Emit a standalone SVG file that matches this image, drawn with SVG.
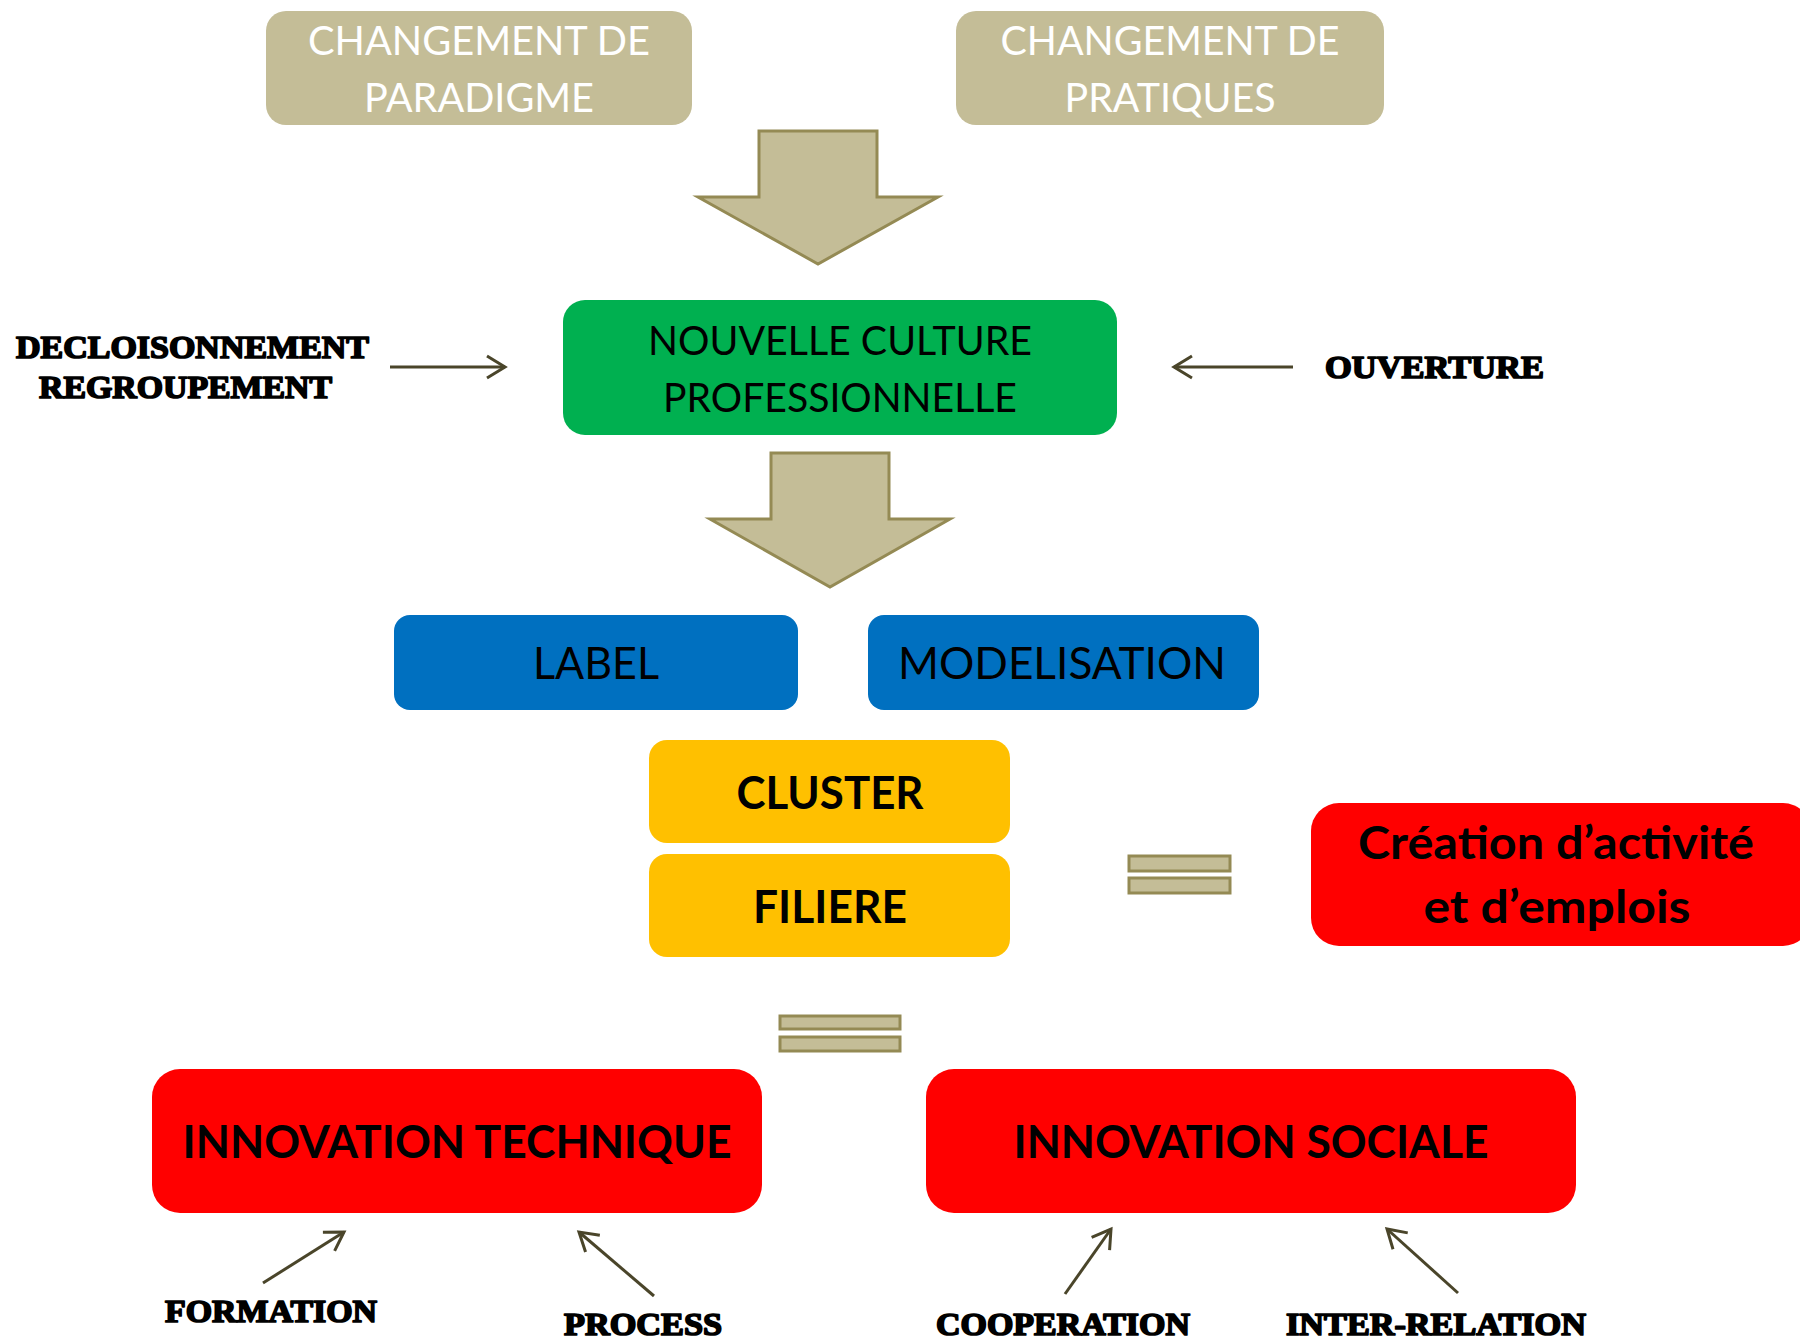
<svg xmlns="http://www.w3.org/2000/svg" width="1800" height="1339" viewBox="0 0 1800 1339">
<defs>
<style>
.tan{fill:#C4BD97}
.big{fill:#C4BD97;stroke:#948A54;stroke-width:3}
.cal{font-family:Lato,"Open Sans","Liberation Sans",sans-serif;font-size:40px;text-anchor:middle}
.calb{font-family:Lato,"Open Sans","Liberation Sans",sans-serif;font-size:46px;font-weight:bold;text-anchor:middle;fill:#000}
.ser{font-family:"Liberation Serif","DejaVu Serif",serif;font-size:31px;font-weight:bold;fill:#000;stroke:#000;stroke-width:1.7;stroke-linejoin:round}
.con{stroke:#4A452A;stroke-width:3;fill:none;marker-end:url(#chev)}
</style>
<marker id="chev" markerUnits="userSpaceOnUse" markerWidth="30" markerHeight="30" viewBox="-22 -15 26 30" refX="0" refY="0" orient="auto">
<path d="M-18,-11 L0,0 L-18,11" fill="none" stroke="#4A452A" stroke-width="3"/>
</marker>
</defs>
<rect width="1800" height="1339" fill="#fff"/>

<g id="n-paradigme">
<rect x="266" y="11" width="426" height="114" rx="20" class="tan"/>
<text class="cal" x="479" y="55" fill="#fff" textLength="342" lengthAdjust="spacingAndGlyphs">CHANGEMENT DE</text>
<text class="cal" x="479" y="112" fill="#fff" textLength="230" lengthAdjust="spacingAndGlyphs">PARADIGME</text>
</g>

<g id="n-pratiques">
<rect x="956" y="11" width="428" height="114" rx="20" class="tan"/>
<text class="cal" x="1170" y="55" fill="#fff" textLength="339" lengthAdjust="spacingAndGlyphs">CHANGEMENT DE</text>
<text class="cal" x="1170" y="112" fill="#fff" textLength="211" lengthAdjust="spacingAndGlyphs">PRATIQUES</text>
</g>

<g id="n-arrow1">
<polygon class="big" points="759,131 877,131 877,197 938,197 818,264 698,197 759,197"/>
</g>

<g id="n-culture">
<rect x="563" y="300" width="554" height="135" rx="22" fill="#00B050"/>
<text class="cal" x="840" y="355" fill="#000" textLength="384" lengthAdjust="spacingAndGlyphs">NOUVELLE CULTURE</text>
<text class="cal" x="840" y="412" fill="#000" textLength="354" lengthAdjust="spacingAndGlyphs">PROFESSIONNELLE</text>
</g>

<g id="n-decloisonnement">
<text class="ser" x="16" y="358" textLength="353" lengthAdjust="spacingAndGlyphs">DECLOISONNEMENT</text>
<text class="ser" x="39" y="398" textLength="293" lengthAdjust="spacingAndGlyphs">REGROUPEMENT</text>
</g>

<g id="n-ouverture">
<text class="ser" x="1325" y="378" textLength="219" lengthAdjust="spacingAndGlyphs">OUVERTURE</text>
</g>

<g id="n-arrow2">
<polygon class="big" points="771,453 889,453 889,519 950,519 830,587 710,519 771,519"/>
</g>

<g id="n-label">
<rect x="394" y="615" width="404" height="95" rx="16" fill="#0070C0"/>
<text class="cal" x="596" y="679" fill="#000" style="font-size:45px" textLength="126" lengthAdjust="spacingAndGlyphs">LABEL</text>
</g>

<g id="n-modelisation">
<rect x="868" y="615" width="391" height="95" rx="16" fill="#0070C0"/>
<text class="cal" x="1062" y="679" fill="#000" style="font-size:45px" textLength="328" lengthAdjust="spacingAndGlyphs">MODELISATION</text>
</g>

<g id="n-cluster">
<rect x="649" y="740" width="361" height="103" rx="18" fill="#FFC000"/>
<text class="calb" x="830" y="809" textLength="187" lengthAdjust="spacingAndGlyphs">CLUSTER</text>
</g>

<g id="n-filiere">
<rect x="649" y="854" width="361" height="103" rx="18" fill="#FFC000"/>
<text class="calb" x="830" y="923" textLength="154" lengthAdjust="spacingAndGlyphs">FILIERE</text>
</g>

<g id="n-equal-right">
<rect x="1129" y="856" width="101" height="15" class="big"/>
<rect x="1129" y="878" width="101" height="15" class="big"/>
</g>

<g id="n-creation">
<rect x="1311" y="803" width="500" height="143" rx="28" fill="#FF0000"/>
<text class="calb" x="1556" y="859" textLength="396" lengthAdjust="spacingAndGlyphs">Création d’activité</text>
<text class="calb" x="1557" y="923" textLength="267" lengthAdjust="spacingAndGlyphs">et d’emplois</text>
</g>

<g id="n-equal-bottom">
<rect x="780" y="1016" width="120" height="13" class="big"/>
<rect x="780" y="1037" width="120" height="14" class="big"/>
</g>

<g id="n-innov-tech">
<rect x="152" y="1069" width="610" height="144" rx="28" fill="#FF0000"/>
<text class="calb" x="457" y="1158" textLength="549" lengthAdjust="spacingAndGlyphs">INNOVATION TECHNIQUE</text>
</g>

<g id="n-innov-soc">
<rect x="926" y="1069" width="650" height="144" rx="28" fill="#FF0000"/>
<text class="calb" x="1251" y="1158" textLength="475" lengthAdjust="spacingAndGlyphs">INNOVATION SOCIALE</text>
</g>

<g id="n-formation"><text class="ser" x="165" y="1322" textLength="212" lengthAdjust="spacingAndGlyphs">FORMATION</text></g>
<g id="n-process"><text class="ser" x="564" y="1335" textLength="158" lengthAdjust="spacingAndGlyphs">PROCESS</text></g>
<g id="n-cooperation"><text class="ser" x="936" y="1335" textLength="254" lengthAdjust="spacingAndGlyphs">COOPERATION</text></g>
<g id="n-interrelation"><text class="ser" x="1286" y="1335" textLength="300" lengthAdjust="spacingAndGlyphs">INTER-RELATION</text></g>

<g id="connectors">
<line class="con" x1="390" y1="367" x2="505" y2="367"/>
<line class="con" x1="1293" y1="367" x2="1174" y2="367"/>
<line class="con" x1="263" y1="1283" x2="344" y2="1232"/>
<line class="con" x1="654" y1="1296" x2="579" y2="1232"/>
<line class="con" x1="1065" y1="1294" x2="1111" y2="1229"/>
<line class="con" x1="1458" y1="1293" x2="1387" y2="1229"/>
</g>
</svg>
